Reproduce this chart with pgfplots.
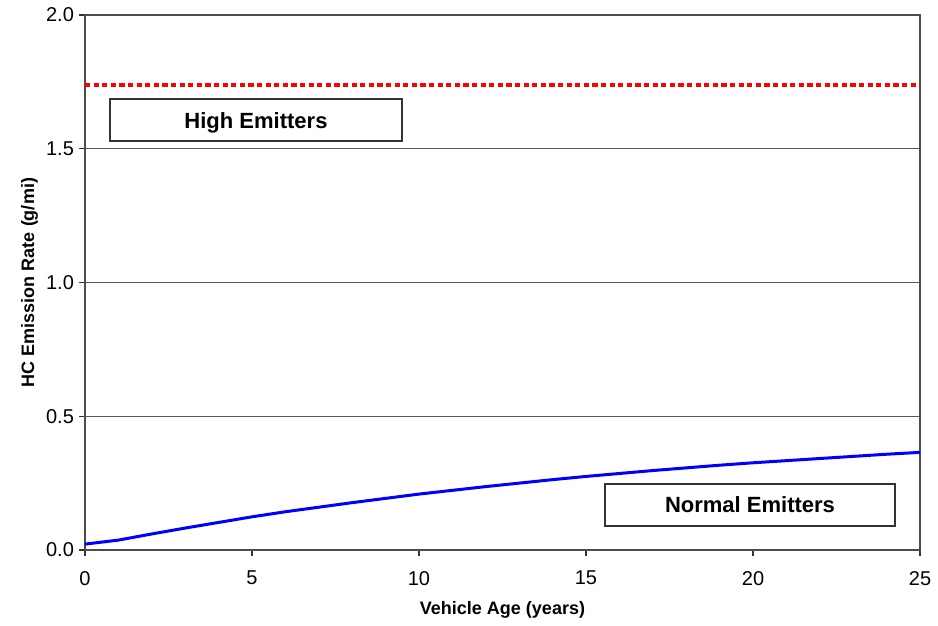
\documentclass[border=0pt]{standalone}
\usepackage{fontspec}
\setmainfont{Liberation Sans}
\usepackage{pgfplots}
\pgfplotsset{compat=1.18}
\begin{document}
\begin{tikzpicture}
\begin{axis}[
  scale only axis,
  width=417.5pt, height=267.5pt,
  xmin=0, xmax=25, ymin=0, ymax=2,
  xtick={0,5,10,15,20,25},
  ytick={0,0.5,1,1.5,2},
  y tick label style={/pgf/number format/fixed, /pgf/number format/fixed zerofill, /pgf/number format/precision=1, xshift=1pt},
  /pgf/number format/assume math mode=true,
  tick label style={font=\fontsize{10}{12}\selectfont},
  ymajorgrids=true,
  grid style={gray!70!black, line width=0.5pt},
  axis line style={draw=black!70, line width=0.8pt},
  tick style={draw=black!80, line width=0.6pt},
  tick align=outside,
  major tick length=3pt,
  xtick pos=bottom, ytick pos=left,
  xlabel={\bfseries Vehicle Age (years)},
  ylabel={\bfseries HC Emission Rate (g/mi)},
  label style={font=\fontsize{9}{11}\selectfont},
  xlabel style={at={(axis description cs:0.5,0)}, anchor=north, yshift=-22pt},
  ylabel style={at={(axis description cs:0,0.5)}, anchor=south, yshift=20pt},
  x tick label style={yshift=-4pt},
  clip=false,
]
\addplot[red, line width=2pt, dash pattern=on 2.6pt off 1.7pt] coordinates {(0,1.74) (25,1.74)};
\addplot[blue, line width=1.5pt] coordinates {
(0,0.022) (1,0.037) (2,0.060) (3,0.082) (4,0.103) (5,0.124) (6,0.143) (7,0.160)
(8,0.177) (9,0.193) (10,0.209) (11,0.223) (12,0.237) (13,0.250) (14,0.263)
(15,0.275) (16,0.286) (17,0.297) (18,0.307) (19,0.317) (20,0.326) (21,0.334)
(22,0.342) (23,0.350) (24,0.358) (25,0.365)};
\draw[black!80, line width=0.6pt, fill=white] (axis cs:0.75,1.529) rectangle (axis cs:9.49,1.686);
\node[font=\fontsize{11}{13}\selectfont\bfseries, yshift=-1.5pt] at (axis cs:5.12,1.6075) {High Emitters};
\draw[black!80, line width=0.6pt, fill=white] (axis cs:15.57,0.0897) rectangle (axis cs:24.25,0.247);
\node[font=\fontsize{11}{13}\selectfont\bfseries] at (axis cs:19.91,0.168) {Normal Emitters};
\end{axis}
\pgfresetboundingbox
\path[use as bounding box] ([shift={(-42.5pt,-38pt)}]current axis.south west) rectangle ([shift={(9pt,7.5pt)}]current axis.north east);
\end{tikzpicture}
\end{document}
